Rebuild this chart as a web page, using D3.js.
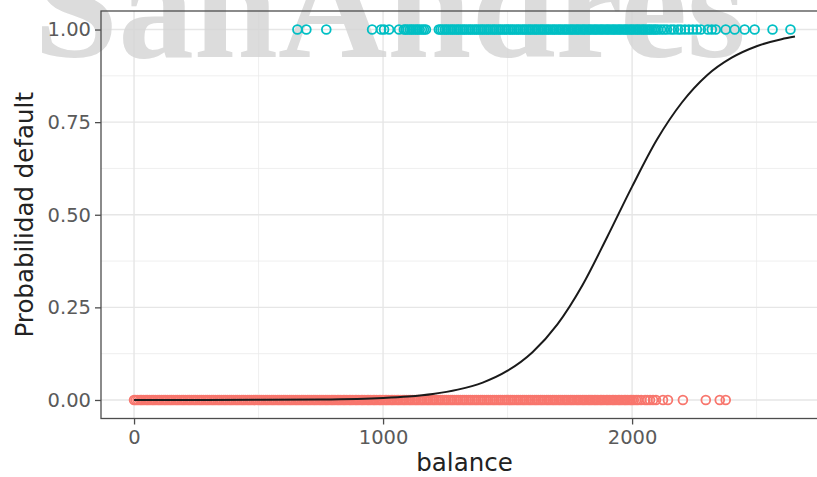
<!DOCTYPE html>
<html>
<head>
<meta charset="utf-8">
<script src="https://cdn.jsdelivr.net/npm/d3@7"></script>
<style>
  body { margin: 0; background: #fff; }
  svg { display: block; font-family: "DejaVu Sans", sans-serif; }
</style>
</head>
<body>
<script>
// balance of clients that did not default (y = 0)
const noDefaultBalance = [
  0, 7, 15, 24, 31, 39, 48, 55, 63, 72, 79, 87, 96, 103, 111, 120, 127, 135, 144, 151, 159, 168, 175, 183,
  192, 199, 207, 216, 223, 231, 240, 247, 255, 264, 271, 279, 288, 295, 303, 312, 319, 327, 336, 343, 351, 360, 367, 375,
  384, 391, 399, 408, 415, 423, 432, 439, 447, 456, 463, 471, 480, 487, 495, 504, 511, 519, 528, 535, 543, 552, 559, 567,
  576, 583, 591, 600, 607, 615, 624, 631, 639, 648, 655, 663, 672, 679, 687, 696, 703, 711, 720, 727, 735, 744, 751, 759,
  768, 775, 783, 792, 799, 807, 816, 823, 831, 840, 847, 855, 864, 871, 879, 888, 895, 903, 912, 919, 927, 936, 943, 951,
  960, 967, 975, 984, 991, 999, 1008, 1015, 1023, 1032, 1039, 1047, 1056, 1063, 1071, 1080, 1087, 1095, 1104, 1111, 1119, 1128, 1135, 1143,
  1152, 1159, 1167, 1176, 1183, 1191, 1200, 1207, 1215, 1224, 1231, 1239, 1248, 1255, 1263, 1272, 1279, 1287, 1296, 1303, 1311, 1320, 1327, 1335,
  1344, 1351, 1359, 1368, 1375, 1383, 1392, 1399, 1407, 1416, 1423, 1431, 1440, 1447, 1455, 1464, 1471, 1479, 1488, 1495, 1503, 1512, 1519, 1527,
  1536, 1543, 1551, 1560, 1567, 1575, 1584, 1591, 1599, 1608, 1615, 1623, 1632, 1639, 1647, 1656, 1663, 1671, 1680, 1687, 1695, 1704, 1711, 1719,
  1728, 1735, 1743, 1752, 1759, 1767, 1776, 1783, 1791, 1800, 1807, 1815, 1824, 1831, 1839, 1848, 1855, 1863, 1872, 1879, 1887, 1896, 1903, 1911,
  1920, 1927, 1935, 1944, 1951, 1959, 1968, 1975, 1983, 1992, 1999, 2007, 2016, 2024, 2036, 2052, 2061, 2072, 2084, 2096, 2124, 2144,
  2204, 2296, 2352, 2376
];

// balance of clients that defaulted (y = 1)
const defaultBalance = [
  656, 692, 772, 956, 992, 1004, 1024, 1064, 1084, 1091, 1099, 1108, 1115, 1123, 1132, 1139, 1147, 1156, 1164, 1172,
  1224, 1231, 1239, 1248, 1255, 1263, 1272, 1279, 1287, 1296, 1303, 1311, 1320, 1327, 1335, 1344, 1351, 1359, 1368, 1375, 1383,
  1392, 1399, 1407, 1416, 1423, 1431, 1440, 1447, 1455, 1464, 1471, 1479, 1488, 1495, 1503, 1512, 1519, 1527, 1536, 1543, 1551,
  1560, 1567, 1575, 1584, 1591, 1599, 1608, 1615, 1623, 1632, 1639, 1647, 1656, 1663, 1671, 1680, 1687, 1695, 1704, 1711, 1719,
  1728, 1735, 1743, 1752, 1759, 1767, 1776, 1783, 1791, 1800, 1807, 1815, 1824, 1831, 1839, 1848, 1855, 1863, 1872, 1879, 1887,
  1896, 1903, 1911, 1920, 1927, 1935, 1944, 1951, 1959, 1968, 1975, 1983, 1992, 1999, 2007, 2016, 2023, 2031, 2040, 2047, 2055,
  2064, 2071, 2079, 2088, 2095, 2104, 2116, 2128, 2140, 2156, 2168, 2184, 2196, 2212, 2228, 2244, 2260, 2276, 2304, 2320, 2336,
  2376, 2412, 2452, 2492, 2564, 2636
];

// fitted probability curve
const curveBalance = [0, 250, 500, 750, 1000, 1100, 1200, 1300, 1400, 1500, 1600, 1700, 1800, 1900, 2000, 2100, 2200, 2300, 2400, 2500, 2600, 2654];
const curveProb = [0.0000, 0.0001, 0.0004, 0.0014, 0.0055, 0.0095, 0.0163, 0.028, 0.047, 0.079, 0.129, 0.204, 0.309, 0.440, 0.576, 0.703, 0.803, 0.876, 0.924, 0.955, 0.974, 0.981];

const xTicks = [0, 1000, 2000];
const xMinor = [500, 1500, 2500];
const yTicks = [0, 0.25, 0.5, 0.75, 1];
const yMinor = [0.125, 0.375, 0.625, 0.875];

const width = 817, height = 477;
const panel = { left: 101, right: 828, top: 11, bottom: 418.5 };

const x = d3.scaleLinear().domain([-132.7, 2786.7]).range([panel.left, panel.right]);
const y = d3.scaleLinear().domain([-0.05, 1.05]).range([panel.bottom, panel.top]);

const svg = d3.select('body').append('svg')
  .attr('width', width)
  .attr('height', height);

const grid = svg.append('g').attr('class', 'grid');
grid.selectAll('.xminor').data(xMinor).enter().append('line')
  .attr('x1', d => x(d)).attr('x2', d => x(d))
  .attr('y1', panel.top).attr('y2', panel.bottom)
  .style('stroke', '#ebebeb').style('stroke-width', 0.8);
grid.selectAll('.yminor').data(yMinor).enter().append('line')
  .attr('x1', panel.left).attr('x2', panel.right)
  .attr('y1', d => y(d)).attr('y2', d => y(d))
  .style('stroke', '#ebebeb').style('stroke-width', 0.8);
grid.selectAll('.xmajor').data(xTicks).enter().append('line')
  .attr('x1', d => x(d)).attr('x2', d => x(d))
  .attr('y1', panel.top).attr('y2', panel.bottom)
  .style('stroke', '#e6e6e6').style('stroke-width', 1.4);
grid.selectAll('.ymajor').data(yTicks).enter().append('line')
  .attr('x1', panel.left).attr('x2', panel.right)
  .attr('y1', d => y(d)).attr('y2', d => y(d))
  .style('stroke', '#e6e6e6').style('stroke-width', 1.4);

// watermark
svg.append('text')
  .attr('x', 34)
  .attr('y', 57)
  .attr('textLength', 712)
  .attr('lengthAdjust', 'spacingAndGlyphs')
  .style('font-family', '"Liberation Serif", serif')
  .style('font-weight', 'bold')
  .style('font-size', '150px')
  .style('fill', '#d6d6d6')
  .style('opacity', 0.85)
  .text('SanAndres');

const pts = svg.append('g').attr('class', 'points');
pts.selectAll('.no').data(noDefaultBalance).enter().append('circle')
  .attr('cx', d => x(d)).attr('cy', y(0)).attr('r', 4.4)
  .style('fill', 'none').style('stroke', '#f8766d').style('stroke-width', 1.8);
pts.selectAll('.yes').data(defaultBalance).enter().append('circle')
  .attr('cx', d => x(d)).attr('cy', y(1)).attr('r', 4.4)
  .style('fill', 'none').style('stroke', '#00bfc4').style('stroke-width', 1.8);

const line = d3.line()
  .x(i => x(curveBalance[i]))
  .y(i => y(curveProb[i]))
  .curve(d3.curveMonotoneX);
svg.append('path')
  .datum(d3.range(curveBalance.length))
  .attr('d', line)
  .style('fill', 'none')
  .style('stroke', '#1a1a1a')
  .style('stroke-width', 2);

svg.append('rect')
  .attr('x', panel.left).attr('y', panel.top)
  .attr('width', panel.right - panel.left).attr('height', panel.bottom - panel.top)
  .style('fill', 'none').style('stroke', '#4d4d4d').style('stroke-width', 1.3);

const xAxis = d3.axisBottom(x).tickValues(xTicks).tickSize(6).tickPadding(4).tickFormat(d3.format('d'));
const yAxis = d3.axisLeft(y).tickValues(yTicks).tickSize(6).tickPadding(4).tickFormat(d3.format('.2f'));

const gx = svg.append('g')
  .attr('transform', 'translate(0,' + panel.bottom + ')')
  .call(xAxis);
const gy = svg.append('g')
  .attr('transform', 'translate(' + panel.left + ',0)')
  .call(yAxis);

[gx, gy].forEach(g => {
  g.select('.domain').remove();
  g.selectAll('.tick line').style('stroke', '#4d4d4d').style('stroke-width', 1.3);
  g.selectAll('.tick text')
    .style('fill', '#5a5a5a')
    .style('font-size', '19.5px')
    .style('font-family', '"DejaVu Sans", sans-serif');
});
gx.selectAll('.tick text').attr('dy', '0.78em');

svg.append('text')
  .attr('x', (panel.left + panel.right) / 2)
  .attr('y', 471)
  .attr('text-anchor', 'middle')
  .style('font-size', '24.5px')
  .style('fill', '#222')
  .text('balance');

svg.append('text')
  .attr('transform', 'translate(33,' + ((panel.top + panel.bottom) / 2) + ') rotate(-90)')
  .attr('text-anchor', 'middle')
  .style('font-size', '24.5px')
  .style('fill', '#222')
  .text('Probabilidad default');
</script>
</body>
</html>
